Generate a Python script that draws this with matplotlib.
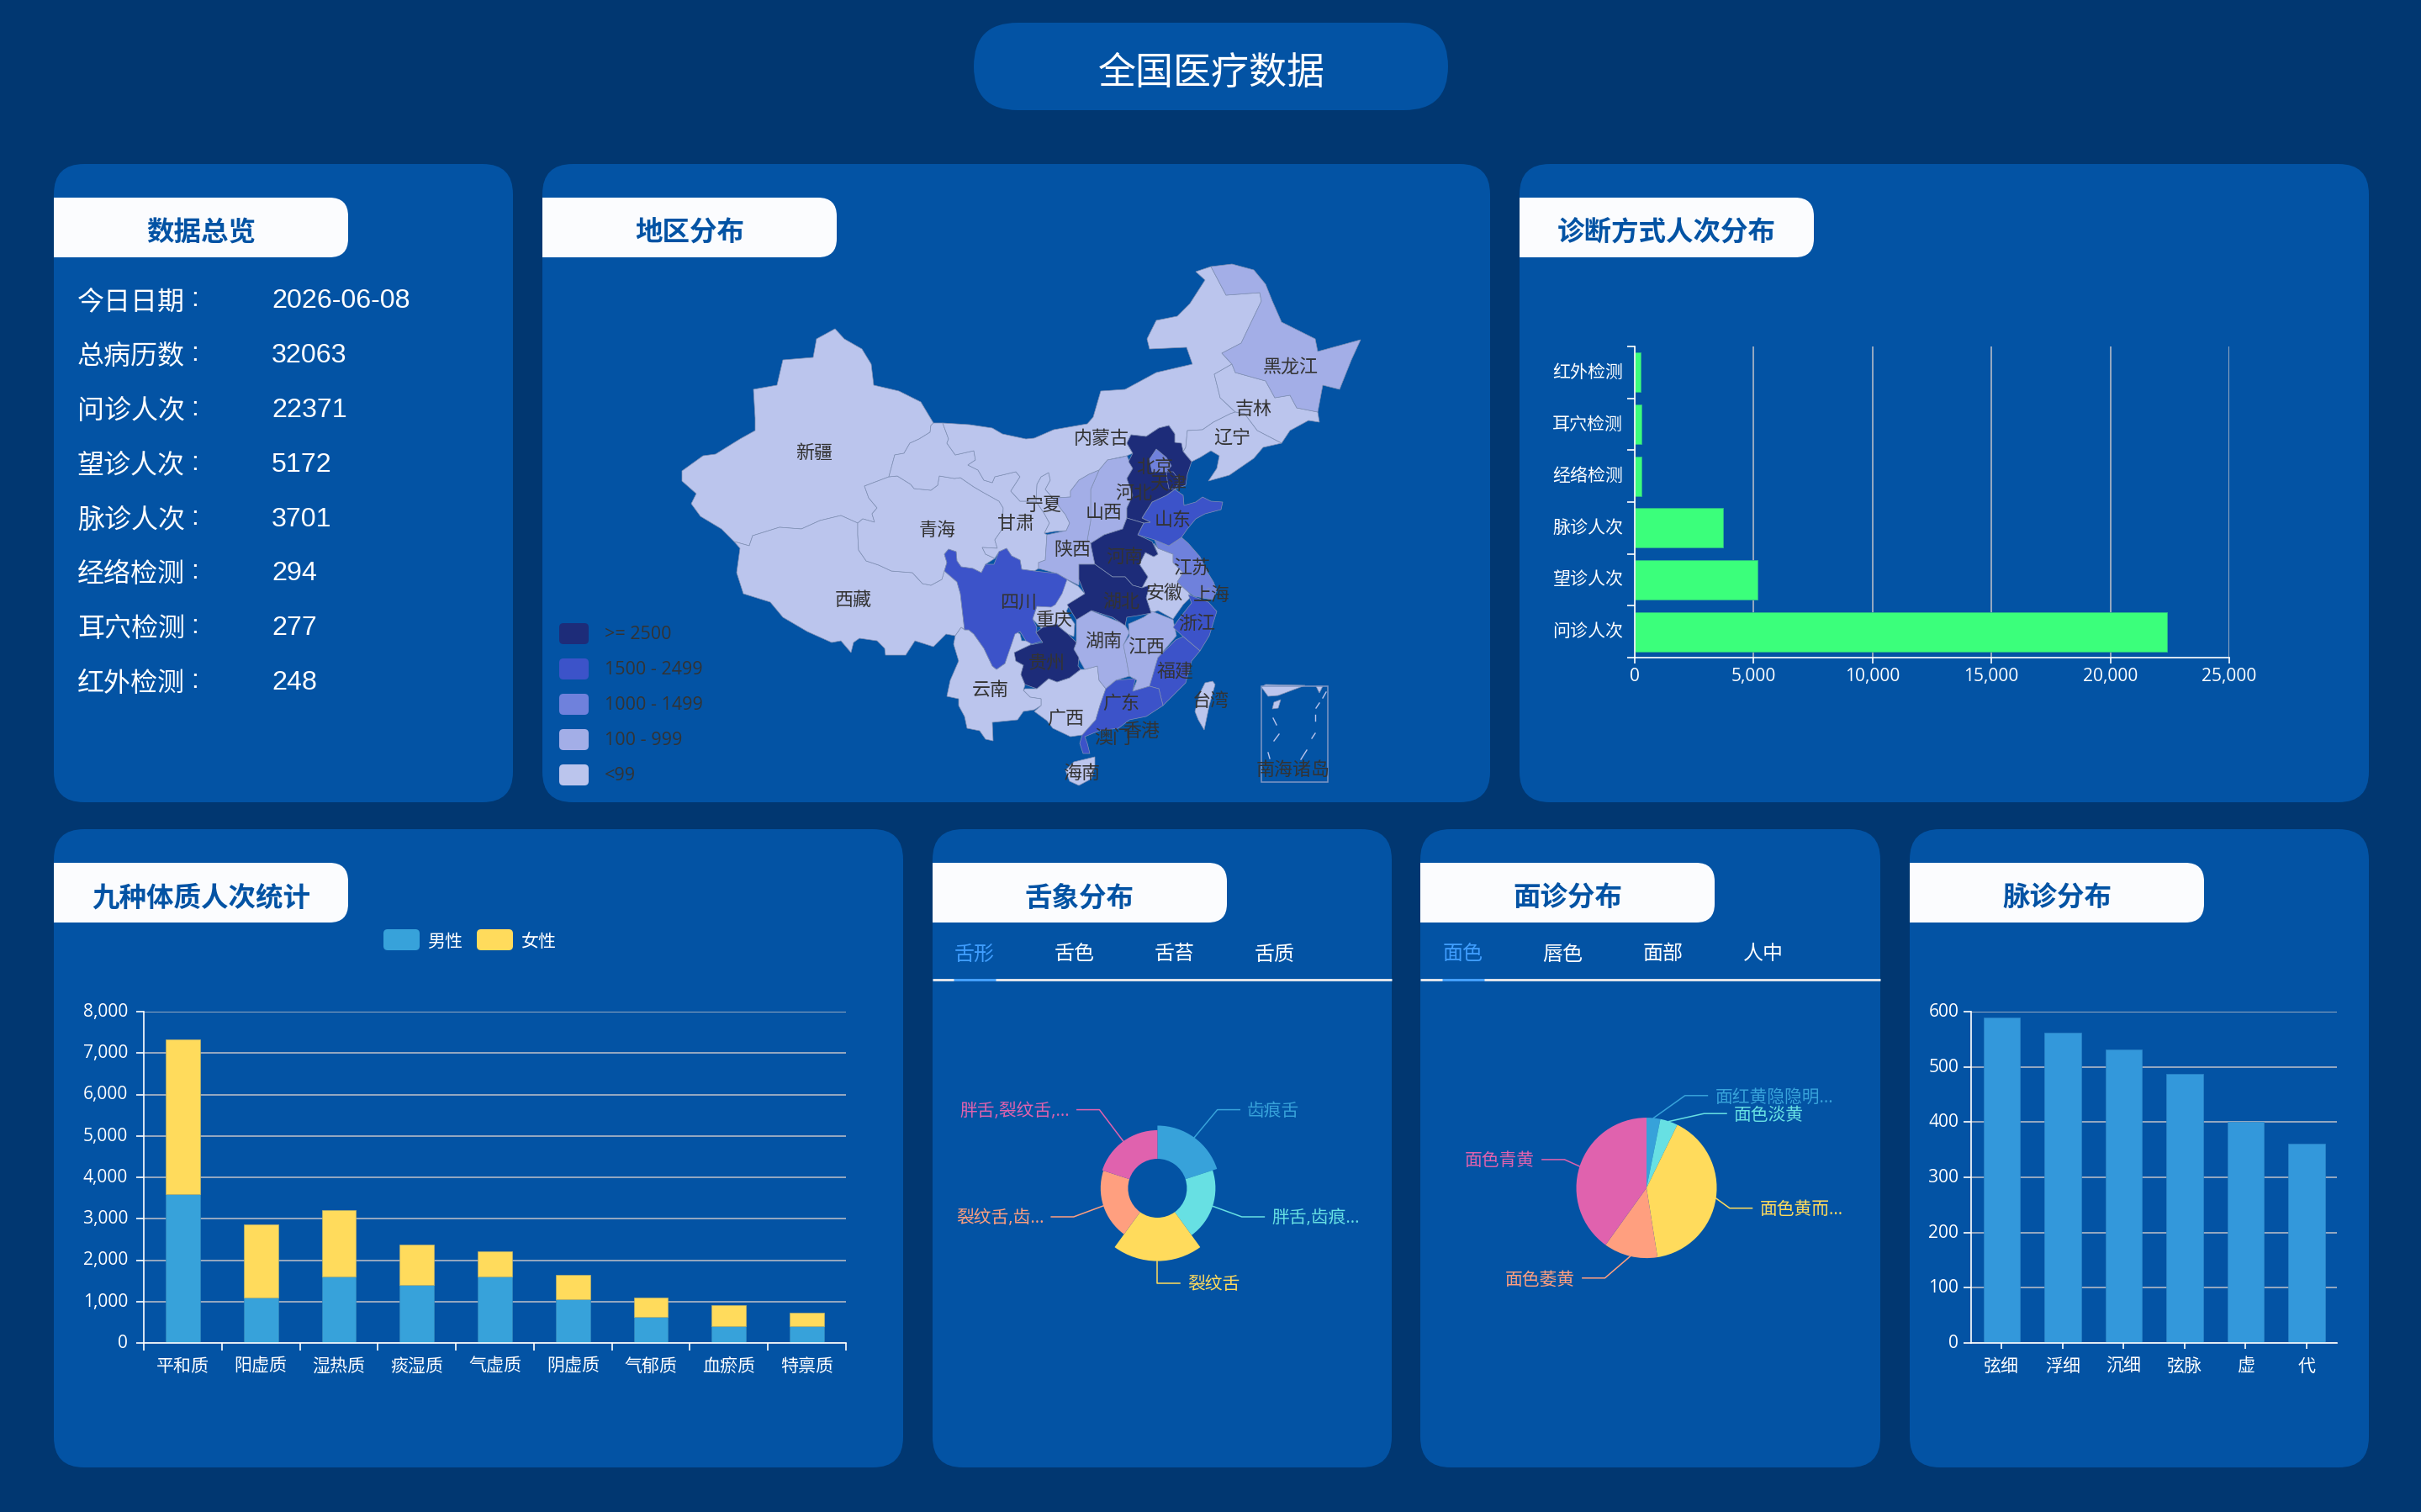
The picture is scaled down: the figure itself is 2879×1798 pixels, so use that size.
import numpy as np
import matplotlib
matplotlib.use('Agg')
from matplotlib import pyplot as plt
from matplotlib.patches import FancyBboxPatch, Polygon, Rectangle, Wedge
from matplotlib.transforms import ScaledTranslation

plt.rcParams['font.family'] = ['Open Sans', 'Noto Sans CJK SC', 'DejaVu Sans']

W, H = 2879, 1799
PAGE_BG = '#013771'
PANEL_BG = '#0353A4'
PILL_BG = '#FBFCFE'
GRID = '#b0b8c6'
CJK = ['Noto Sans CJK SC', 'DejaVu Sans']

# overview numbers
overview_keys = ['今日日期', '总病历数', '问诊人次', '望诊人次', '脉诊人次', '经络检测', '耳穴检测', '红外检测']
overview_vals = ['2026-06-08', '32063', '22371', '5172', '3701', '294', '277', '248']

# diagnosis counts
diag_names = ['问诊人次', '望诊人次', '脉诊人次', '经络检测', '耳穴检测', '红外检测']
diag_counts = [22371, 5172, 3701, 294, 277, 248]

# nine constitutions, stacked by gender
body_types = ['平和质', '阳虚质', '湿热质', '痰湿质', '气虚质', '阴虚质', '气郁质', '血瘀质', '特禀质']
body_male = [3604, 1099, 1600, 1398, 1600, 1064, 633, 404, 396]
body_female = [3736, 1767, 1608, 984, 606, 580, 466, 501, 325]

# pulse distribution
pulse_names = ['弦细', '浮细', '沉细', '弦脉', '虚', '代']
pulse_counts = [590, 562, 531, 488, 401, 361]

# tongue rose chart
tongue_names = ['齿痕舌', '胖舌,齿痕...', '裂纹舌', '裂纹舌,齿...', '胖舌,裂纹舌,...']
tongue_counts = [395, 340, 516, 326, 340]
tongue_tabs = ['舌形', '舌色', '舌苔', '舌质']

# face colour pie
face_names = ['面红黄隐隐明...', '面色淡黄', '面色黄而...', '面色萎黄', '面色青黄']
face_counts = [114, 146, 1450, 447, 1443]
face_tabs = ['面色', '唇色', '面部', '人中']

pie_colors = ['#37A2DA', '#67E0E3', '#FFDB5C', '#FF9F7F', '#E062AE']

# visual map bins
map_bins = ['>= 2500', '1500 - 2499', '1000 - 1499', '100 - 999', '<99']
bin_colors = ['#1D2C79', '#3C53C9', '#6F81DC', '#A3AEE7', '#BBC5ED']

# province outlines on the map plane
xinjiang = [(993, 392), (1004, 404), (1025, 416), (1036, 434), (1039, 459), (1069, 466), (1095, 479), (1110, 504),
            (1107, 507), (1106, 515), (1093, 523), (1082, 528), (1075, 540), (1064, 542), (1057, 568), (1028, 579),
            (1033, 593), (1043, 605), (1037, 612), (1040, 622), (1026, 618), (1020, 623), (1000, 614), (975, 620),
            (953, 630), (927, 628), (895, 638), (891, 650), (873, 645), (858, 630), (833, 615), (822, 600), (828, 588),
            (811, 573), (811, 561), (836, 543), (851, 541), (880, 523), (898, 513), (898, 498), (896, 464), (924, 459),
            (931, 429), (967, 426), (971, 404)]
xizang = [(873, 645), (891, 650), (895, 638), (927, 628), (953, 630), (975, 620), (1000, 614), (1020, 623), (1020, 637),
          (1021, 655), (1030, 668), (1045, 673), (1060, 680), (1085, 682), (1097, 695), (1107, 697), (1120, 690),
          (1123, 680), (1138, 693), (1142, 707), (1147, 750), (1143, 747), (1136, 757), (1125, 755), (1110, 770),
          (1088, 763), (1077, 780), (1053, 780), (1052, 772), (1043, 763), (1022, 760), (1015, 765), (1012, 777),
          (1000, 763), (989, 765), (960, 752), (931, 735), (916, 717), (884, 707), (876, 682), (880, 653)]
qinghai = [(1020, 623), (1026, 618), (1040, 622), (1037, 612), (1043, 605), (1033, 593), (1028, 579), (1057, 568),
           (1067, 567), (1083, 577), (1087, 582), (1107, 584), (1115, 578), (1117, 567), (1135, 570), (1142, 569),
           (1158, 580), (1170, 587), (1188, 597), (1193, 605), (1192, 630), (1183, 643), (1186, 653), (1168, 652),
           (1172, 660), (1183, 665), (1172, 672), (1167, 682), (1157, 677), (1143, 675), (1138, 668), (1137, 657),
           (1128, 654), (1123, 660), (1126, 670), (1123, 680), (1120, 690), (1107, 697), (1097, 695), (1085, 682),
           (1060, 680), (1045, 673), (1030, 668), (1021, 655), (1020, 637)]
gansu = [(1121, 504), (1128, 523), (1126, 528), (1136, 542), (1158, 537), (1160, 548), (1151, 554), (1163, 560),
         (1170, 572), (1180, 575), (1183, 568), (1208, 562), (1213, 568), (1202, 585), (1213, 597), (1232, 597),
         (1242, 612), (1248, 623), (1242, 635), (1245, 637), (1243, 667), (1235, 670), (1235, 677), (1230, 680),
         (1215, 678), (1213, 667), (1203, 662), (1197, 653), (1188, 657), (1183, 665), (1172, 660), (1168, 652),
         (1186, 653), (1183, 643), (1192, 630), (1193, 605), (1188, 597), (1170, 587), (1158, 580), (1142, 569),
         (1135, 570), (1117, 567), (1115, 578), (1107, 584), (1087, 582), (1083, 577), (1067, 567), (1057, 568),
         (1064, 542), (1075, 540), (1082, 528), (1093, 523), (1106, 515), (1107, 507), (1110, 504)]
ningxia = [(1238, 568), (1247, 563), (1249, 572), (1243, 583), (1252, 593), (1263, 608), (1267, 613), (1272, 623),
           (1268, 632), (1253, 633), (1242, 635), (1248, 623), (1242, 612), (1232, 597), (1233, 577)]
neimenggu = [(1121, 504), (1153, 506), (1180, 510), (1192, 517), (1220, 523), (1230, 522), (1253, 512), (1293, 505),
             (1300, 497), (1309, 466), (1338, 464), (1375, 444), (1418, 434), (1411, 414), (1367, 416), (1364, 404),
             (1375, 382), (1400, 377), (1415, 362), (1433, 334), (1422, 324), (1440, 318), (1458, 352), (1498, 349),
             (1500, 359), (1487, 386), (1476, 409), (1453, 421), (1465, 434), (1444, 446), (1451, 474), (1469, 491),
             (1463, 493), (1443, 503), (1430, 512), (1412, 513), (1410, 533), (1407, 538), (1397, 527), (1397, 517),
             (1390, 507), (1378, 510), (1363, 520), (1345, 518), (1340, 528), (1347, 540), (1340, 543), (1317, 548),
             (1307, 560), (1295, 565), (1283, 572), (1273, 585), (1273, 592), (1257, 593), (1252, 593), (1243, 583),
             (1249, 572), (1247, 563), (1238, 568), (1233, 577), (1232, 597), (1213, 597), (1202, 585), (1213, 568),
             (1208, 562), (1183, 568), (1180, 575), (1170, 572), (1163, 560), (1151, 554), (1160, 548), (1158, 537),
             (1136, 542), (1126, 528), (1128, 523)]
heilongjiang = [(1440, 318), (1465, 315), (1491, 322), (1505, 339), (1513, 359), (1524, 384), (1564, 404), (1567, 419),
                (1618, 405), (1607, 429), (1593, 464), (1573, 459), (1567, 491), (1542, 486), (1534, 471), (1516, 474),
                (1505, 454), (1469, 444), (1465, 434), (1453, 421), (1476, 409), (1487, 386), (1500, 359), (1498, 349),
                (1458, 352)]
jilin = [(1444, 446), (1465, 434), (1469, 444), (1505, 454), (1516, 474), (1534, 471), (1542, 486), (1567, 491),
         (1569, 503), (1556, 501), (1534, 513), (1524, 528), (1495, 513), (1480, 493), (1469, 491), (1451, 474)]
liaoning = [(1469, 491), (1480, 493), (1495, 513), (1524, 528), (1502, 533), (1491, 546), (1462, 566), (1437, 573),
            (1447, 558), (1450, 543), (1440, 537), (1427, 545), (1417, 550), (1407, 538), (1410, 533), (1412, 513),
            (1430, 512), (1443, 503), (1463, 493)]
hebei = [(1340, 528), (1345, 518), (1363, 520), (1378, 510), (1390, 507), (1397, 517), (1397, 527), (1405, 528),
         (1407, 538), (1417, 550), (1412, 565), (1410, 578), (1397, 583), (1387, 590), (1370, 598), (1358, 617),
         (1368, 622), (1360, 623), (1340, 617), (1340, 605), (1347, 590), (1340, 570), (1347, 558), (1342, 550),
         (1347, 540)]
beijing = [(1367, 547), (1375, 535), (1387, 545), (1393, 555), (1387, 562), (1370, 562)]
tianjin = [(1387, 562), (1395, 562), (1403, 573), (1397, 583), (1390, 582), (1388, 572)]
shanxi = [(1340, 543), (1347, 558), (1340, 570), (1347, 590), (1340, 605), (1340, 617), (1335, 630), (1313, 637),
          (1297, 647), (1293, 643), (1297, 620), (1297, 583), (1307, 560), (1317, 548), (1333, 545)]
shaanxi = [(1307, 560), (1295, 565), (1283, 572), (1273, 585), (1273, 592), (1257, 593), (1252, 593), (1263, 608),
           (1267, 613), (1272, 623), (1268, 632), (1245, 637), (1243, 667), (1235, 670), (1235, 677), (1257, 683),
           (1269, 690), (1283, 697), (1283, 672), (1302, 672), (1298, 653), (1297, 647), (1293, 643), (1297, 620),
           (1297, 583)]
henan = [(1297, 647), (1313, 637), (1335, 630), (1340, 617), (1360, 623), (1353, 637), (1370, 645), (1377, 660),
         (1372, 663), (1362, 658), (1355, 672), (1365, 687), (1358, 700), (1347, 697), (1338, 687), (1323, 687),
         (1302, 672), (1298, 653)]
hubei = [(1283, 672), (1302, 672), (1323, 687), (1338, 687), (1347, 697), (1358, 700), (1367, 697), (1363, 712),
         (1369, 730), (1353, 733), (1340, 735), (1338, 745), (1323, 735), (1298, 727), (1280, 738), (1269, 720),
         (1290, 707), (1283, 690)]
shandong = [(1358, 617), (1370, 598), (1387, 590), (1397, 583), (1407, 590), (1408, 602), (1422, 598), (1430, 592),
            (1440, 597), (1454, 598), (1452, 607), (1433, 612), (1422, 618), (1412, 630), (1405, 640), (1390, 650),
            (1373, 643), (1353, 637), (1360, 623), (1368, 622)]
jiangsu = [(1373, 643), (1390, 650), (1405, 640), (1413, 647), (1427, 663), (1435, 680), (1443, 693), (1447, 703),
           (1437, 713), (1420, 710), (1413, 705), (1400, 693), (1407, 682), (1395, 670), (1395, 660), (1377, 653)]
shanghai = [(1437, 700), (1447, 703), (1442, 714), (1430, 712)]
anhui = [(1372, 647), (1377, 653), (1395, 660), (1395, 670), (1407, 682), (1400, 693), (1413, 705), (1417, 710),
         (1407, 720), (1395, 737), (1377, 727), (1369, 730), (1363, 712), (1367, 697), (1358, 700), (1365, 687),
         (1355, 672), (1362, 658), (1372, 663), (1377, 660)]
zhejiang = [(1413, 708), (1437, 717), (1447, 728), (1438, 757), (1427, 775), (1407, 758), (1395, 747), (1402, 737),
            (1417, 718)]
fujian = [(1407, 758), (1427, 775), (1417, 787), (1410, 813), (1393, 830), (1383, 840), (1378, 820), (1367, 817),
          (1377, 783), (1398, 762)]
jiangxi = [(1342, 743), (1360, 735), (1370, 728), (1395, 738), (1399, 757), (1377, 783), (1367, 817), (1347, 823),
           (1352, 810), (1343, 805), (1339, 783), (1336, 768), (1343, 757)]
hunan = [(1280, 737), (1297, 727), (1317, 735), (1337, 743), (1343, 753), (1336, 768), (1339, 783), (1343, 805),
         (1327, 810), (1315, 820), (1307, 810), (1305, 793), (1290, 797), (1282, 783), (1277, 773), (1280, 765)]
guangxi = [(1219, 820), (1233, 820), (1247, 808), (1257, 812), (1272, 807), (1285, 797), (1290, 797), (1305, 793),
           (1307, 810), (1315, 820), (1308, 840), (1303, 857), (1287, 875), (1273, 877), (1252, 867), (1245, 858),
           (1230, 847), (1238, 840), (1238, 832), (1225, 830), (1217, 822)]
guangdong = [(1315, 820), (1327, 810), (1350, 808), (1347, 823), (1367, 817), (1378, 820), (1383, 840), (1363, 853),
             (1343, 857), (1330, 867), (1307, 870), (1290, 877), (1293, 885), (1296, 897), (1288, 897), (1284, 885),
             (1287, 875), (1303, 857), (1308, 840)]
hainan = [(1277, 907), (1302, 901), (1302, 912), (1298, 927), (1283, 935), (1272, 930), (1267, 917)]
yunnan = [(1143, 747), (1147, 750), (1152, 750), (1158, 755), (1170, 772), (1180, 793), (1185, 797), (1195, 790),
          (1202, 767), (1208, 752), (1213, 755), (1215, 763), (1227, 763), (1225, 768), (1207, 777), (1208, 787),
          (1217, 792), (1214, 803), (1219, 815), (1217, 822), (1225, 830), (1238, 832), (1238, 840), (1230, 845),
          (1217, 847), (1210, 857), (1180, 860), (1181, 882), (1172, 880), (1165, 870), (1150, 867), (1147, 853),
          (1140, 840), (1140, 832), (1126, 829), (1130, 810), (1140, 787), (1134, 767), (1136, 757)]
sichuan = [(1123, 660), (1128, 654), (1137, 657), (1138, 668), (1143, 675), (1157, 677), (1167, 682), (1172, 672),
           (1182, 672), (1188, 657), (1197, 653), (1203, 662), (1213, 667), (1215, 678), (1230, 680), (1257, 683),
           (1269, 690), (1263, 707), (1255, 720), (1250, 723), (1233, 722), (1228, 737), (1233, 747), (1232, 753),
           (1240, 763), (1227, 767), (1220, 763), (1213, 752), (1207, 755), (1203, 767), (1195, 790), (1185, 797),
           (1180, 793), (1170, 772), (1158, 755), (1152, 750), (1147, 750), (1142, 707), (1138, 693), (1123, 680),
           (1126, 670)]
chongqing = [(1268, 690), (1282, 698), (1290, 707), (1288, 715), (1272, 720), (1268, 728), (1278, 743), (1277, 758),
             (1270, 755), (1258, 745), (1247, 748), (1238, 748), (1228, 737), (1233, 722), (1250, 722), (1262, 703)]
guizhou = [(1232, 753), (1240, 747), (1257, 743), (1260, 747), (1270, 755), (1280, 765), (1277, 773), (1283, 783),
           (1282, 793), (1285, 797), (1272, 807), (1257, 812), (1247, 808), (1233, 820), (1219, 815), (1214, 803),
           (1217, 792), (1208, 787), (1206, 777), (1225, 768), (1240, 765)]
taiwan = [(1442, 811), (1445, 815), (1438, 840), (1432, 869), (1425, 857), (1421, 847), (1427, 825), (1433, 813)]
nanhai_land = [(1500, 818), (1505, 815), (1552, 816), (1520, 828), (1508, 829)]
nanhai_tip = [(1565, 817), (1573, 817), (1569, 825)]
nanhai_isle = [(1515, 836), (1523, 833), (1520, 843), (1513, 844)]
nanhai_dashes = [((1514, 855), (1518, 863)), ((1521, 874), (1515, 882)), ((1508, 896), (1510, 903)),
                 ((1554, 893), (1547, 904)), ((1564, 873), (1560, 879)), ((1564, 851), (1564, 858)),
                 ((1569, 837), (1565, 843)), ((1577, 824), (1573, 831))]
nanhai_box = (1500, 817, 1579, 931)

# outline, colour bin
provinces = [
    (xinjiang, 4), (xizang, 4), (qinghai, 4), (gansu, 4), (ningxia, 4), (neimenggu, 4), (jilin, 4), (liaoning, 4),
    (anhui, 4), (guangxi, 4), (hainan, 4), (yunnan, 4), (chongqing, 4), (taiwan, 4), (nanhai_land, 4), (nanhai_tip, 4),
    (nanhai_isle, 4), (heilongjiang, 3), (shanxi, 3), (shaanxi, 3), (hunan, 3), (jiangxi, 3),
    (jiangsu, 2), (shanghai, 2), (shandong, 1), (sichuan, 1), (zhejiang, 1), (fujian, 1), (guangdong, 1),
    (hebei, 0), (tianjin, 0), (henan, 0), (hubei, 0), (guizhou, 0), (beijing, 2),
]

map_labels = ['新疆', '西藏', '青海', '甘肃', '宁夏', '内蒙古', '黑龙江', '吉林', '辽宁', '北京', '天津', '河北', '山西', '山东',
              '陕西', '河南', '江苏', '安徽', '上海', '湖北', '浙江', '四川', '重庆', '湖南', '江西', '贵州', '福建', '云南',
              '广东', '广西', '香港', '澳门', '台湾', '海南', '南海诸岛']
label_x = [968, 1015, 1115, 1208, 1240, 1310, 1535, 1491, 1465, 1373, 1389, 1348, 1313, 1395,
           1275, 1337, 1417, 1385, 1441, 1333, 1423, 1211, 1254, 1312, 1363, 1245, 1398, 1178,
           1333, 1267, 1357, 1323, 1440, 1286, 1538]
label_y = [536, 711, 628, 620, 598, 519, 434, 484, 518, 553, 573, 584, 607, 616,
           651, 660, 673, 703, 705, 713, 739, 714, 734, 760, 767, 786, 795, 818,
           834, 852, 867, 875, 831, 917, 913]


def pt(px):
    return px * 0.72


fig = plt.figure(figsize=(W / 100, H / 100), dpi=100, facecolor=PAGE_BG)
bg = fig.add_axes([0, 0, 1, 1])
bg.set_xlim(0, W)
bg.set_ylim(H, 0)
bg.axis('off')


def rounded(x0, y0, x1, y1, radius, color, ax=bg, **kw):
    patch = FancyBboxPatch((x0, y0), x1 - x0, y1 - y0, boxstyle=f'round,pad=0,rounding_size={radius}',
                           facecolor=color, edgecolor='none', **kw)
    ax.add_patch(patch)
    return patch


def panel(x0, y0, x1, y1, title):
    rounded(x0, y0, x1, y1, 36, PANEL_BG)
    pill = rounded(x0 - 40, y0 + 40, x0 + 350, y0 + 111, 22, PILL_BG)
    pill.set_clip_path(Rectangle((x0, y0), 400, 200, transform=bg.transData))
    bg.text(x0 + 175, y0 + 81, title, color=PANEL_BG, fontsize=pt(32.5), fontweight='bold',
            family=CJK, ha='center', va='center')


def chart_axes(x0, x1, ytop, ybot):
    ax = fig.add_axes([x0 / W, 1 - ybot / H, (x1 - x0) / W, (ybot - ytop) / H])
    ax.patch.set_alpha(0)
    for side in ['top', 'right']:
        ax.spines[side].set_visible(False)
    for side in ['left', 'bottom']:
        ax.spines[side].set_color('white')
        ax.spines[side].set_linewidth(1.2)
    ax.tick_params(which='both', colors='white', length=6.5, width=1.2, labelsize=pt(21), pad=3)
    ax.set_axisbelow(True)
    return ax


def lift_labels(labels, px):
    # echarts sets its axis text slightly above the tick
    for label in labels:
        label.set_transform(label.get_transform() + ScaledTranslation(0, px / 100, fig.dpi_scale_trans))


def tabs(x0, x1, names, centers):
    for i, (name, cx) in enumerate(zip(names, centers)):
        bg.text(cx, 1135, name, color='#409EFF' if i == 0 else 'white', fontsize=pt(24), ha='center', va='center',
                family=CJK)
    bg.plot([x0, x1], [1166, 1166], color='#E4E7ED', lw=2.1, solid_capstyle='butt')
    bg.plot([centers[0] - 25, centers[0] + 25], [1166, 1166], color='#409EFF', lw=2.1, solid_capstyle='butt')


def leaders(cx, cy, mids, radii, elbows, names):
    for mid, r, (ex, ey), name, color in zip(mids, radii, elbows, names, pie_colors):
        a = np.deg2rad(mid)
        x1, y1 = cx + r * np.sin(a), cy - r * np.cos(a)
        x2, y2 = cx + ex, cy + ey
        side = 1 if ex >= 0 else -1
        x3 = x2 + side * 26.6
        bg.plot([x1, x2, x3], [y1, y2, y2], color=color, lw=1.1)
        bg.text(x3 + side * 9, y2 + 1, name, color=color, fontsize=pt(20.8), va='center',
                ha='left' if side > 0 else 'right')


# top banner
rounded(1158, 28, 1722, 132, 52, PANEL_BG)
bg.text(1441, 87, '全国医疗数据', color='white', fontsize=pt(45), ha='center', va='center', family=CJK)

panel(64, 196, 610, 955, '数据总览')
panel(645, 196, 1772, 955, '地区分布')
panel(1807, 196, 2817, 955, '诊断方式人次分布')
panel(64, 987, 1074, 1746, '九种体质人次统计')
panel(1109, 987, 1655, 1746, '舌象分布')
panel(1689, 987, 2236, 1746, '面诊分布')
panel(2271, 987, 2817, 1746, '脉诊分布')

# overview list
for i, (key, val) in enumerate(zip(overview_keys, overview_vals)):
    y = 355 + i * 64.9
    bg.text(92, y + 4, key, color='white', fontsize=pt(32), va='center', family=CJK)
    bg.text(232, y + 1, ':', color='white', fontsize=pt(32), va='center', ha='center', family='Liberation Sans')
    bg.text(323, y + 3, val, color='white', fontsize=pt(32.3), va='center', family='Liberation Sans')

# china map
map_ax = fig.add_axes([645 / W, 1 - 955 / H, (1772 - 645) / W, (955 - 196) / H])
map_ax.set_xlim(645, 1772)
map_ax.set_ylim(955, 196)
map_ax.axis('off')
for outline, level in provinces:
    map_ax.add_patch(Polygon(outline, closed=True, facecolor=bin_colors[level], edgecolor='#8492b5', lw=0.5))
for a, b in nanhai_dashes:
    map_ax.plot([a[0], b[0]], [a[1], b[1]], color=bin_colors[4], lw=1.0)
bx0, by0, bx1, by1 = nanhai_box
map_ax.add_patch(Rectangle((bx0, by0), bx1 - bx0, by1 - by0, fill=False, edgecolor='#7f96c4', lw=1.1))
for name, lx, ly in zip(map_labels, label_x, label_y):
    map_ax.text(lx, ly + 3, name, color='#333333', fontsize=pt(22), ha='center', va='center', family=CJK)
for i, (name, color) in enumerate(zip(map_bins, bin_colors)):
    y = 742 + i * 42
    rounded(665, y, 700, y + 25, 5, color, ax=map_ax)
    map_ax.text(719, y + 13, name, color='#333333', fontsize=pt(21.5), va='center')

# diagnosis bars
ax = chart_axes(1944, 2651, 413, 783)
ax.barh(np.arange(len(diag_names)), diag_counts, height=0.76, color='#3BFF7B', edgecolor='#2cb98a', lw=0.6)
ax.set_xlim(0, 25000)
ax.set_ylim(-0.5, 5.5)
ax.set_xticks(np.arange(0, 25001, 5000), [f'{v:,}' for v in range(0, 25001, 5000)])
ax.set_yticks(np.arange(-0.5, 6), [])
ax.set_yticks(np.arange(6), diag_names, minor=True)
ax.tick_params(axis='y', which='minor', length=0, pad=10)
ax.tick_params(axis='x', length=5)
ax.grid(axis='x', color=GRID, lw=1.2)
lift_labels(ax.get_yticklabels(minor=True), 3)

# nine constitutions
ax = chart_axes(171, 1006, 1204, 1598)
x = np.arange(len(body_types))
ax.bar(x, body_male, width=0.44, color='#37A2DA', edgecolor='#3389bd', lw=0.5)
ax.bar(x, body_female, width=0.44, bottom=body_male, color='#FFDB5C', edgecolor='#b8b06c', lw=0.5)
ax.set_xlim(-0.5, 8.5)
ax.set_ylim(0, 8000)
ax.set_yticks(np.arange(0, 8001, 1000), [f'{v:,}' for v in range(0, 8001, 1000)])
ax.set_xticks(np.arange(-0.5, 9), [])
ax.set_xticks(x, body_types, minor=True)
ax.tick_params(axis='x', which='minor', length=0, pad=12)
ax.tick_params(axis='y', pad=7)
ax.grid(axis='y', color=GRID, lw=1.2)
lift_labels(ax.get_yticklabels(), 3)
for name, color, sx in zip(['男性', '女性'], ['#37A2DA', '#FFDB5C'], [456, 567]):
    rounded(sx, 1106, sx + 43, 1131, 5, color)
    bg.text(sx + 52, 1120, name, color='white', fontsize=pt(21), va='center', family=CJK)

# pulse bars
ax = chart_axes(2344, 2779, 1204, 1598)
x = np.arange(len(pulse_names))
ax.bar(x, pulse_counts, width=0.6, color='#3398DB', edgecolor='#2c86c8', lw=0.5)
ax.set_xlim(-0.5, 5.5)
ax.set_ylim(0, 600)
ax.set_yticks(np.arange(0, 601, 100))
ax.set_xticks(x, pulse_names)
ax.tick_params(axis='y', pad=4)
ax.tick_params(axis='x', length=5, pad=7)
ax.grid(axis='y', color=GRID, lw=1.2)
lift_labels(ax.get_yticklabels(), 3)

# tongue rose chart, equal angles with radius following the count
tabs(1109, 1655, tongue_tabs, [1159, 1278, 1397, 1516])
tx, ty = 1376.4, 1414
r_in, r_out = 35, 86.6
step = 360 / len(tongue_counts)
tongue_r = [r_in + (r_out - r_in) * v / max(tongue_counts) for v in tongue_counts]
for i, (r, color) in enumerate(zip(tongue_r, pie_colors)):
    bg.add_patch(Wedge((tx, ty), r, i * step - 90, (i + 1) * step - 90, width=r - r_in, facecolor=color, lw=0))
leaders(tx, ty, [(i + 0.5) * step for i in range(5)], tongue_r,
        [(71.3, -93.4), (100.4, 34), (0, 113), (-99.6, 34), (-69, -93.4)], tongue_names)

# face colour pie
tabs(1689, 2236, face_tabs, [1740, 1858, 1978, 2097])
fx, fy, fr = 1958, 1413.6, 83.5
ends = np.cumsum(face_counts) / sum(face_counts) * 360
starts = np.concatenate([[0], ends[:-1]])
for a0, a1, color in zip(starts, ends, pie_colors):
    bg.add_patch(Wedge((fx, fy), fr, a0 - 90, a1 - 90, facecolor=color, lw=0))
leaders(fx, fy, (starts + ends) / 2, [fr] * 5,
        [(45.8, -109.8), (68.4, -88.4), (98.9, 24.1), (-49.5, 107.2), (-97.5, -33.7)], face_names)

fig.savefig('out.png', dpi=100, facecolor=PAGE_BG)
